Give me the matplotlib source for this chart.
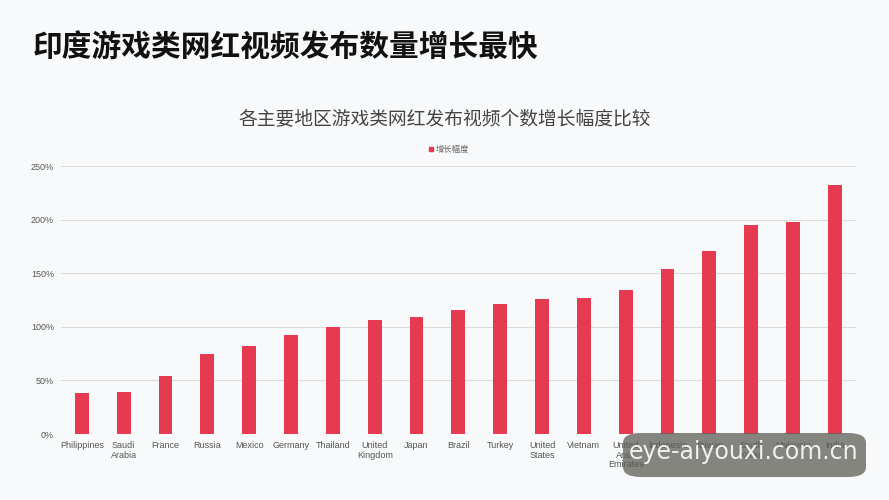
import matplotlib.pyplot as plt
from matplotlib.patches import FancyBboxPatch, Rectangle
from matplotlib.ticker import FuncFormatter

plt.rcParams['font.family'] = ['Noto Sans CJK SC', 'DejaVu Sans']

# 数据
regions = ['Philippines', 'Saudi\nArabia', 'France', 'Russia', 'Mexico', 'Germany',
           'Thailand', 'United\nKingdom', 'Japan', 'Brazil', 'Turkey', 'United\nStates',
           'Vietnam', 'United\nArab\nEmirates', 'Indonesia', 'Taiwan', 'South\nKorea',
           'Malaysia', 'India']
growth = [38, 39.5, 54, 74.5, 82, 92.5, 99.5, 106, 109, 116, 121, 126, 127, 134,
          153.5, 171, 195, 198, 232]
y_ticks = [0, 50, 100, 150, 200, 250]

bg = '#f7f9fa'
bar_color = '#e63a50'

fig = plt.figure(figsize=(8.89, 5), dpi=100, facecolor=bg)
ax = fig.add_axes([0.0686, 0.132, 0.894, 0.536], facecolor=bg)

ax.bar(range(len(regions)), growth, width=0.33, color=bar_color, zorder=3)
ax.set_xlim(-0.5, len(regions) - 0.5)
ax.set_ylim(0, 250)
ax.set_yticks(y_ticks)
ax.yaxis.set_major_formatter(FuncFormatter(lambda v, p: '%d%%' % v))
ax.set_xticks(range(len(regions)))
ax.set_xticklabels(regions, fontsize=6.5, color='#555555', linespacing=1.1,
                   family=['Liberation Sans', 'DejaVu Sans'])
for lab in ax.get_yticklabels():
    lab.set_fontsize(6.5)
    lab.set_color('#555555')
    lab.set_family(['Liberation Sans', 'DejaVu Sans'])
ax.tick_params(length=0, pad=5)
ax.grid(axis='y', color='#dcdcdc', linewidth=0.8, zorder=0)
for s in ax.spines.values():
    s.set_visible(False)

# 标题
fig.text(33 / 889, 1 - 48 / 500, '印度游戏类网红视频发布数量增长最快', fontsize=21.4,
         fontweight='bold', color='#111111', va='center', ha='left')
fig.text(445 / 889, 1 - 120 / 500, '各主要地区游戏类网红发布视频个数增长幅度比较',
         fontsize=13.5, color='#444444', va='center', ha='center')

# 图例
fig.patches.append(Rectangle((429 / 889, 1 - 151 / 500), 4 / 889, 4 / 500,
                             transform=fig.transFigure, color=bar_color))
fig.text(436 / 889, 1 - 149 / 500, '增长幅度', fontsize=6, color='#666666',
         va='center', ha='left')

# 水印(半透明,下面的标签仍可见)
box = FancyBboxPatch((623 / 889, 1 - 477 / 500), 243 / 889, 44 / 500,
                     boxstyle='round,pad=0,rounding_size=0.02',
                     transform=fig.transFigure, facecolor='#5e5e56', alpha=0.75,
                     edgecolor='none', zorder=10)
fig.patches.append(box)
fig.text(744 / 889, 1 - 452 / 500, 'eye-aiyouxi.com.cn', fontsize=17, color='#f0f0f0',
         va='center', ha='center', zorder=11, family=['DejaVu Sans'])

fig.savefig('out.png', dpi=100, facecolor=bg)
